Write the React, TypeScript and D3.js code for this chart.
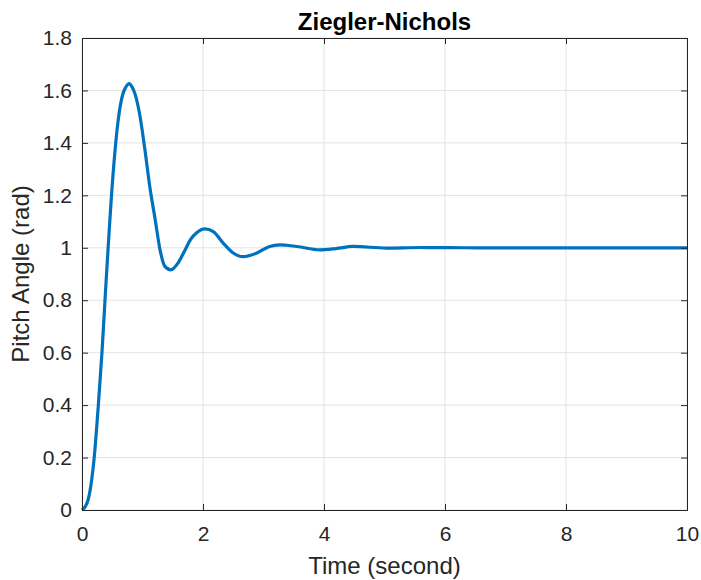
import React, { useEffect, useRef } from 'react';
import * as d3 from 'd3';

// step response samples
const timeValues = [0, 0.05, 0.1, 0.16, 0.2, 0.27, 0.33, 0.38, 0.52, 0.6, 0.68, 0.73, 0.78, 0.83, 0.88, 0.96, 1.04, 1.12, 1.21, 1.29, 1.37, 1.47, 1.59, 1.7, 1.79, 1.9, 2.03, 2.17, 2.33, 2.5, 2.66, 2.89, 3.1, 3.27, 3.55, 3.93, 4.2, 4.48, 5.03, 5.59, 6.5, 7.5, 10];
const pitchValues = [0, 0.012, 0.038, 0.115, 0.196, 0.40, 0.6, 0.8, 1.30, 1.49, 1.59, 1.615, 1.626, 1.612, 1.584, 1.50, 1.374, 1.234, 1.107, 0.992, 0.929, 0.916, 0.943, 0.99, 1.03, 1.058, 1.072, 1.062, 1.019, 0.98, 0.966, 0.98, 1.005, 1.011, 1.005, 0.992, 0.997, 1.005, 0.999, 1.001, 1.0, 1.0, 1.0];
const xTicks = [0, 2, 4, 6, 8, 10];
const yTicks = [0, 0.2, 0.4, 0.6, 0.8, 1, 1.2, 1.4, 1.6, 1.8];

const App = () => {
  const svgRef = useRef<SVGSVGElement>(null);

  useEffect(() => {
    const margin = { top: 38, right: 14, bottom: 70, left: 82 };
    const W = 701, H = 580;
    const width = W - margin.left - margin.right;
    const height = H - margin.top - margin.bottom;
    const axisColor = '#262626';
    const font = '"Liberation Sans", Arial, sans-serif';

    const root = d3.select(svgRef.current);
    root.selectAll('*').remove();

    const svg = root.append('g').attr('transform', `translate(${margin.left},${margin.top})`);

    const x = d3.scaleLinear().domain([0, 10]).range([0, width]);
    const y = d3.scaleLinear().domain([0, 1.8]).range([height, 0]);

    // grid
    svg.append('g')
      .selectAll('line')
      .data(xTicks)
      .enter()
      .append('line')
      .attr('x1', d => x(d)).attr('x2', d => x(d))
      .attr('y1', 0).attr('y2', height)
      .attr('stroke', '#e3e3e3').attr('stroke-width', 1);
    svg.append('g')
      .selectAll('line')
      .data(yTicks)
      .enter()
      .append('line')
      .attr('x1', 0).attr('x2', width)
      .attr('y1', d => y(d)).attr('y2', d => y(d))
      .attr('stroke', '#e3e3e3').attr('stroke-width', 1);

    // response curve
    const data = timeValues.map((t, i) => ({ t, v: pitchValues[i] }));
    const line = d3.line<{ t: number; v: number }>()
      .x(d => x(d.t))
      .y(d => y(d.v))
      .curve(d3.curveMonotoneX);
    svg.append('path')
      .datum(data)
      .attr('d', line)
      .attr('fill', 'none')
      .attr('stroke', '#0072BD')
      .attr('stroke-width', 3.2)
      .attr('stroke-linejoin', 'round');

    // axes (ticks pointing inward, box around)
    const styleAxis = (g: any) => {
      g.select('.domain').attr('stroke', axisColor);
      g.selectAll('.tick line').attr('stroke', axisColor);
      g.selectAll('.tick text')
        .attr('fill', axisColor)
        .style('font-family', font)
        .style('font-size', '21px');
    };

    svg.append('g')
      .attr('transform', `translate(0,${height})`)
      .call(d3.axisBottom(x).tickValues(xTicks).tickSize(-6).tickPadding(16).tickFormat(d3.format('d')))
      .call(styleAxis);
    svg.append('g')
      .call(d3.axisLeft(y).tickValues(yTicks).tickSize(-6).tickPadding(10).tickFormat(d => `${+(+d).toFixed(1)}`))
      .call(styleAxis);
    svg.append('g')
      .call(d3.axisTop(x).tickValues(xTicks).tickSize(-6).tickFormat(() => ''))
      .call(styleAxis);
    svg.append('g')
      .attr('transform', `translate(${width},0)`)
      .call(d3.axisRight(y).tickValues(yTicks).tickSize(-6).tickFormat(() => ''))
      .call(styleAxis);

    // labels
    svg.append('text')
      .attr('x', width / 2)
      .attr('y', -8)
      .attr('text-anchor', 'middle')
      .style('font-family', font)
      .style('font-size', '24px')
      .style('font-weight', 'bold')
      .attr('fill', '#000')
      .text('Ziegler-Nichols');

    svg.append('text')
      .attr('x', width / 2)
      .attr('y', height + 64)
      .attr('text-anchor', 'middle')
      .style('font-family', font)
      .style('font-size', '24px')
      .attr('fill', axisColor)
      .text('Time (second)');

    svg.append('text')
      .attr('transform', `translate(${-53},${height / 2}) rotate(-90)`)
      .attr('text-anchor', 'middle')
      .style('font-family', font)
      .style('font-size', '24px')
      .attr('fill', axisColor)
      .text('Pitch Angle (rad)');
  }, []);

  return (
    <svg ref={svgRef} width={701} height={580} style={{ position: 'absolute', left: 0, top: 0, background: '#fff' }} />
  );
};

export default App;
